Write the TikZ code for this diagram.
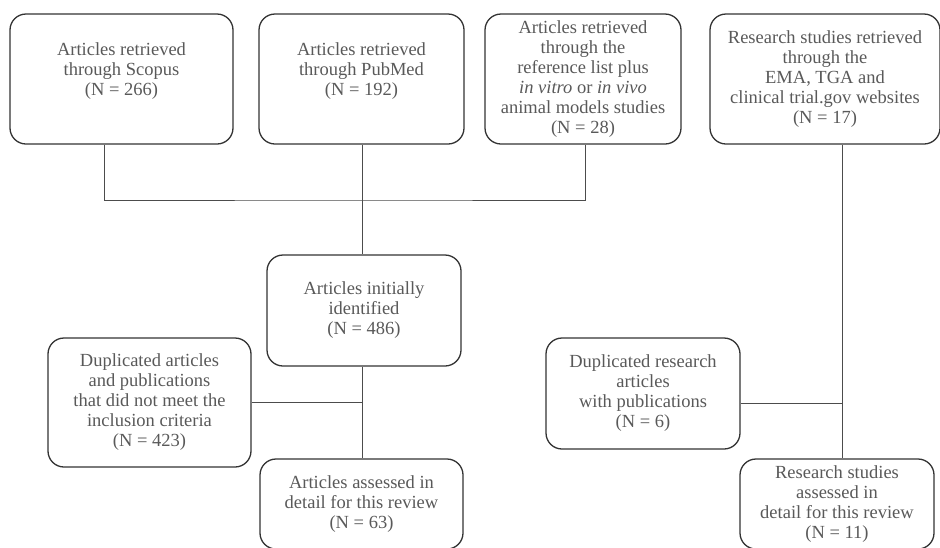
\documentclass[tikz,border=0pt]{standalone}
\usepackage{fontspec}
\setmainfont{Liberation Serif}
\usepackage{tikz}
\usetikzlibrary{positioning}

\begin{document}
\begin{tikzpicture}[x=1pt,y=-1pt]
            \tikzstyle{stage}=[rectangle, rounded corners=16pt, draw=black!80, line width=1.3pt, align=center, text=black!65, font=\fontsize{18.5}{20}\selectfont, inner sep=2pt]
            \tikzstyle{connect}=[draw=black!70, line width=0.8pt]
            \useasboundingbox (0,0) rectangle (940,547);
            \node[stage, minimum width=223pt, minimum height=130pt] (scopus) at (121.5,79){Articles retrieved\\through Scopus\\(N = 266)\\\mbox{}};
            \node[stage, minimum width=205pt, minimum height=130pt] (pubmed) at (361.5,79){Articles retrieved\\through PubMed\\(N = 192)\\\mbox{}};
            \node[stage, minimum width=196pt, minimum height=130pt] (reflist) at (583,79){Articles retrieved\\through the\\reference list plus\\\textit{in vitro} or \textit{in vivo}\\animal models studies\\(N = 28)};
            \node[stage, minimum width=230pt, minimum height=130pt] (websites) at (825,79){Research studies retrieved\\through the\\EMA, TGA and\\clinical trial.gov websites\\(N = 17)};
            \node[stage, minimum width=194pt, minimum height=111pt] (initial) at (364,310.5){Articles initially\\identified\\(N = 486)};
            \node[stage, minimum width=203pt, minimum height=129pt] (dupart) at (149.5,402.5){Duplicated articles\\and publications\\that did not meet the\\inclusion criteria\\(N = 423)};
            \node[stage, minimum width=203pt, minimum height=90pt] (assessed) at (361.5,504){Articles assessed in\\detail for this review\\(N = 63)};
            \node[stage, minimum width=194pt, minimum height=111pt] (dupres) at (643,393.5){Duplicated research\\articles\\with publications\\(N = 6)};
            \node[stage, minimum width=194pt, minimum height=90pt] (resassessed) at (837,504){Research studies\\assessed in\\detail for this review\\(N = 11)};
            \coordinate (merge) at (362,200);
            \coordinate (webline) at (842,403);
            \path[connect] ([xshift=-17.5pt]scopus.south) |- (merge) -| ([xshift=2pt]reflist.south);
            \path[connect] (pubmed.south -| merge) -- (initial.north -| merge);
            \path[connect] (initial.south -| merge) -- (assessed.north -| merge);
            \path[connect] (dupart.east) -- (dupart.east -| merge);
            \path[connect] (websites.south -| webline) -- (resassessed.north -| webline);
            \path[connect] (dupres.east |- webline) -- (webline);
        \end{tikzpicture}
\end{document}
